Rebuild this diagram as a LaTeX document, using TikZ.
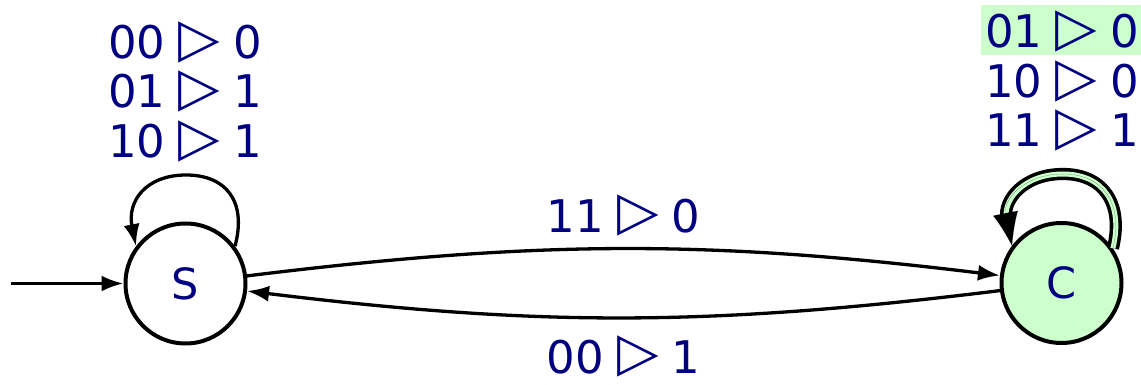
\documentclass[tikz,border=0pt]{standalone}
\usepackage{fontspec}
\usepackage{graphicx}
\setmainfont{DejaVu Sans}
\usetikzlibrary{arrows.meta}
\definecolor{labnavy}{RGB}{0,0,128}
\definecolor{hlgreen}{RGB}{204,255,204}
\newsavebox{\tribox}
\newcommand\tri{\sbox{\tribox}{\scalebox{1.2}{▷}}\hspace{0.29em}\raisebox{\dimexpr 0.3645em-(\ht\tribox-\dp\tribox)/2\relax}{\usebox{\tribox}}\hspace{0.29em}}
\tikzset{
  state/.style={circle, draw=black, line width=4pt, minimum size=120pt, inner sep=0pt,
    text=labnavy, font=\fontsize{43}{47}\selectfont},
  edge/.style={draw=black, line width=3.3pt, -{Latex[length=22pt,width=16pt]}},
  lab/.style={text=labnavy, font=\fontsize{45}{49.5}\selectfont, inner sep=0pt, align=center},
  hlloop/.style={draw=black, line width=3.6pt, double=hlgreen, double distance=5pt, shorten >=28pt},
  hltip/.style={draw=black, line width=0.01pt, -{Latex[length=33pt,width=25pt]}}
}
\begin{document}
\begin{tikzpicture}[x=1pt,y=1pt]
\useasboundingbox (0,0) rectangle (1141,385);
\node[state] (S) at (185.5,101.5) {S};
\node[state, fill=hlgreen] (C) at (1061.5,102) {C};
\coordinate (init) at (11,101.5);
\coordinate (Stop) at (186,210);
\coordinate (Ctop) at (1063,211);
\draw[edge] (init) -- (S);
% loops
\draw[edge] (S.37) .. controls +(12,45) and +(40,0) .. (Stop)
  .. controls +(-40,0) and +(-9,45) .. (S.143);
\draw[hlloop] (C.34) .. controls +(11,45) and +(40,0) .. (Ctop)
  .. controls +(-40,0) and +(-9,45) .. (C.143);
\draw[hltip] (C.34) .. controls +(11,45) and +(40,0) .. (Ctop)
  .. controls +(-40,0) and +(-9,45) .. (C.143);
% edges
\draw[edge] (S) to[bend left=7] node[lab, midway, yshift=33pt] (l1) {11\tri0} (C);
\draw[edge] (C) to[bend left=7] node[lab, midway, yshift=-39pt] (l2) {00\tri1} (S);
% loop labels
\node[lab] (lS) at (185,293.5) {00\tri0\\01\tri1\\10\tri1};
\fill[hlgreen] (981,330) rectangle (1143,380);
\node[lab] (lC) at (1062,304) {01\tri0\\10\tri0\\11\tri1};
\end{tikzpicture}
\end{document}
